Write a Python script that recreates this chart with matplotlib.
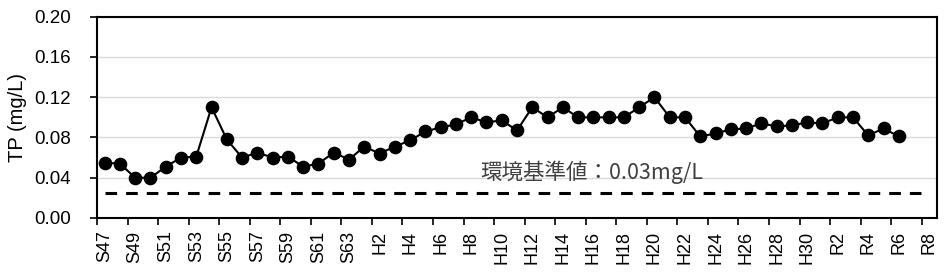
import numpy as np
import matplotlib
matplotlib.use("Agg")
import matplotlib.pyplot as plt
from matplotlib.ticker import FixedLocator

# Fiscal years: Showa 47-63, Heisei 1-30, Reiwa 1-8
years = ([f"S{n}" for n in range(47, 64)]
         + [f"H{n}" for n in range(1, 31)]
         + [f"R{n}" for n in range(1, 9)])

# TP (mg/L), S47 .. R6
tp = [0.055, 0.054, 0.040, 0.040, 0.051, 0.060, 0.061, 0.110, 0.078, 0.060,
      0.065, 0.060, 0.061, 0.051, 0.054, 0.065, 0.058, 0.071, 0.064, 0.071,
      0.077, 0.086, 0.090, 0.093, 0.100, 0.095, 0.097, 0.087, 0.110, 0.100,
      0.110, 0.100, 0.100, 0.100, 0.100, 0.110, 0.120, 0.100, 0.100, 0.081,
      0.084, 0.088, 0.089, 0.094, 0.091, 0.092, 0.095, 0.094, 0.100, 0.100,
      0.082, 0.089, 0.081]

standard = 0.025
standard_label = "環境基準値：0.03mg/L"

plt.rcParams['font.family'] = ['Liberation Sans', 'DejaVu Sans']

fig = plt.figure(figsize=(9.48, 2.77), dpi=100)
ax = fig.add_axes([97/948, 1 - 218/277, 840/948, (218 - 16.7)/277])

x = np.arange(len(years))
ax.plot(x, [standard] * len(years), color="black", lw=2.2,
        linestyle=(0, (3.8, 2.95)), zorder=2)
ax.plot(np.arange(len(tp)), tp, color="black", lw=1.5, marker="o",
        markersize=8.8, zorder=3)

ax.text(24.6, 0.0455, standard_label, fontsize=15.5, color="#404040",
        ha="left", va="center", family=['Noto Sans CJK JP', 'DejaVu Sans'])

ax.set_xlim(-0.5, len(years) - 0.5)
ax.set_ylim(0, 0.20)
ax.set_yticks(np.arange(0, 0.201, 0.04))
ax.set_yticklabels([f"{v:.2f}" for v in np.arange(0, 0.201, 0.04)], fontsize=13.5)
ax.yaxis.grid(True, color="#d9d9d9", lw=1.0)
ax.set_axisbelow(True)

# labels under even categories, tick marks at category boundaries
ax.set_xticks(x[::2])
ax.set_xticklabels(years[::2], rotation=90, fontsize=13)
ax.xaxis.set_minor_locator(FixedLocator(np.arange(-0.5, len(years), 2)))
ax.tick_params(axis="x", which="major", length=0, pad=9)
ax.tick_params(axis="x", which="minor", length=5, width=1.2)
ax.tick_params(axis="y", length=5, width=1.2, pad=14)

for s in ax.spines.values():
    s.set_linewidth(1.5)

ax.set_ylabel("TP (mg/L)", fontsize=14.5)
ax.yaxis.set_label_coords(-0.083, 0.5)

fig.savefig("out.png", dpi=100)
